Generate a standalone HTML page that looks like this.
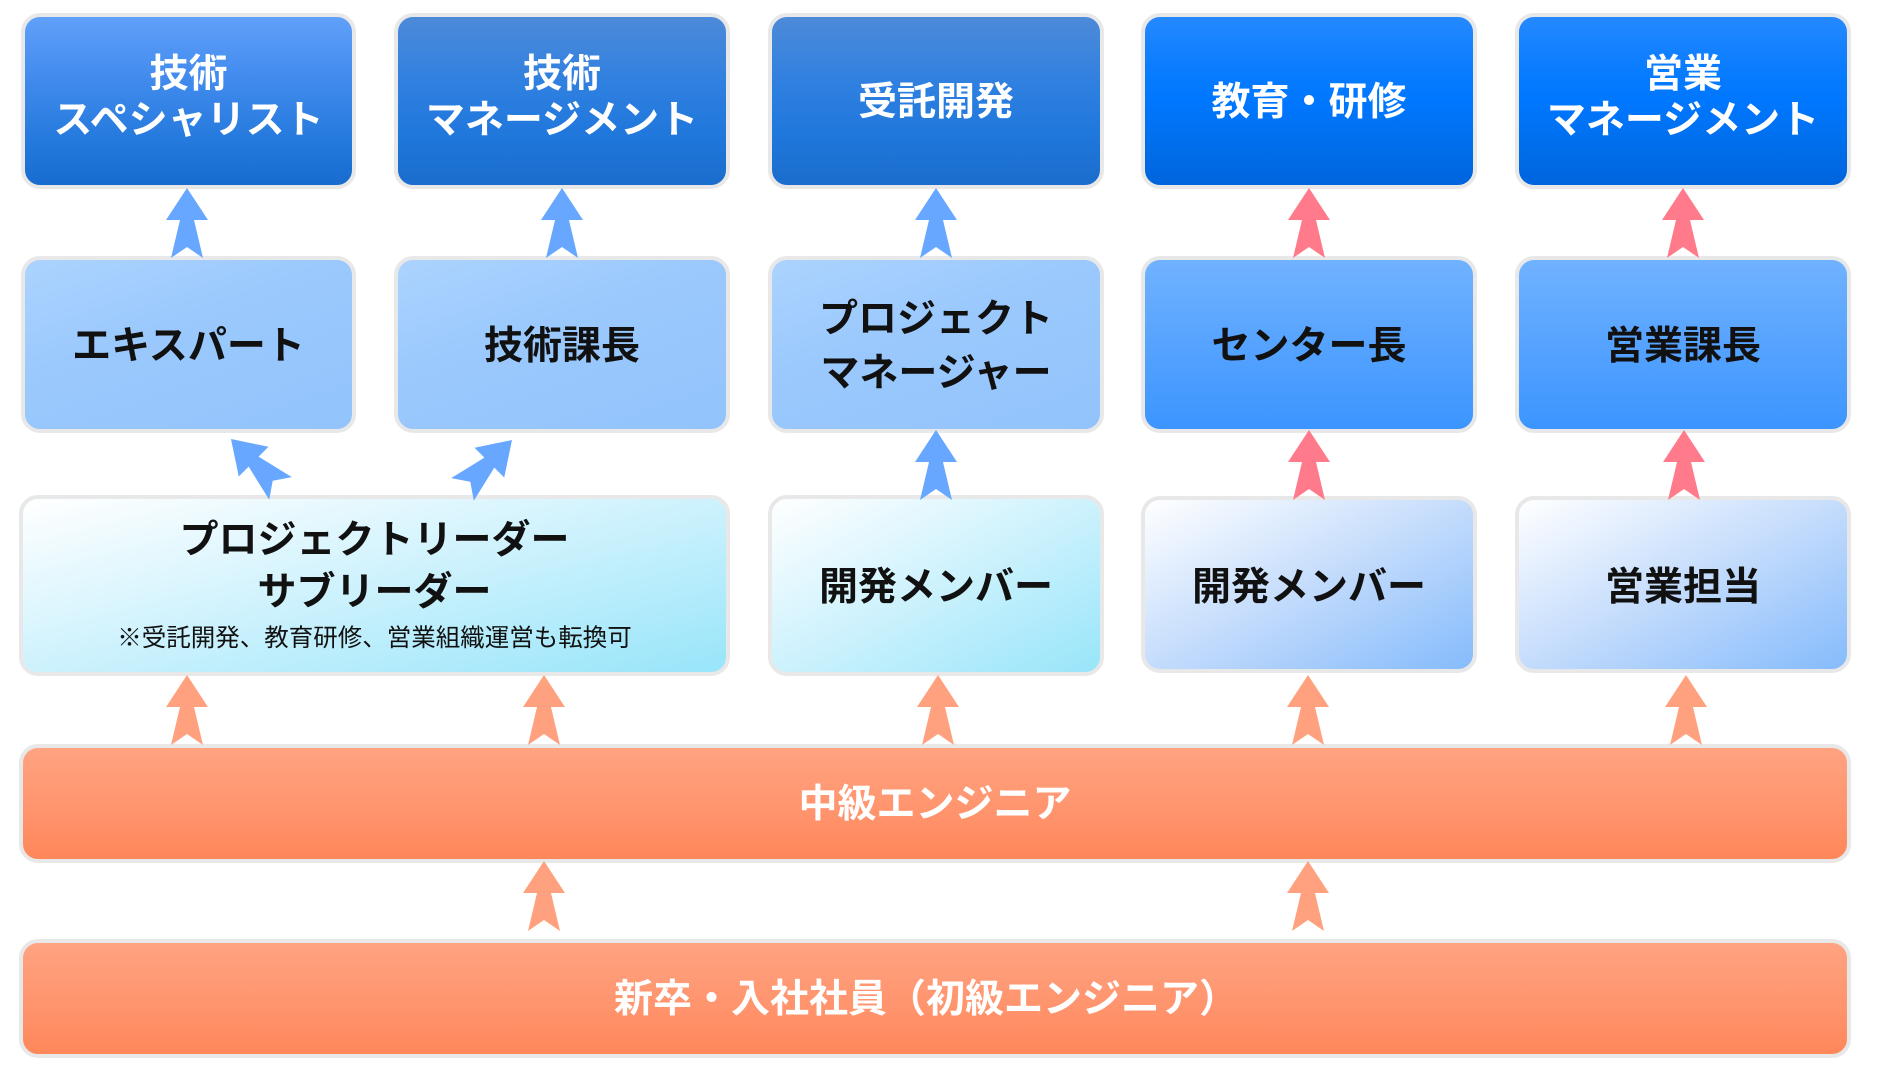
<!DOCTYPE html>
<html>
<head>
<meta charset="utf-8">
<style>
  html,body{margin:0;padding:0;background:#fff;}
  body{width:1881px;height:1084px;position:relative;overflow:hidden;
       font-family:"Liberation Sans","Noto Sans CJK JP",sans-serif;}
  .b{position:absolute;box-sizing:border-box;border:4px solid #e8e8e8;border-radius:19px;}
  .t{position:absolute;height:50px;line-height:50px;text-align:center;font-size:39px;font-weight:700;white-space:nowrap;margin-top:3px;
     font-family:"Liberation Sans","Noto Sans CJK JP",sans-serif;}
  .w{color:#fff;}
  .k{color:#111;}
  .r1a{background:linear-gradient(to bottom,#60a0fa 0%,#3f89ec 40%,#2479dc 75%,#186ccf 100%);}
  .r1b{background:linear-gradient(to bottom,#4d8ad9 0%,#2f80e0 40%,#2077dc 70%,#1a6dcc 100%);}
  .r1c{background:linear-gradient(to bottom,#2589ff 0%,#0a7dff 30%,#0077ff 50%,#006de9 80%,#0064dc 100%);}
  .r2a{background:linear-gradient(160deg,#acd3fe 0%,#9bc9fd 40%,#92c3fc 100%);}
  .r2c{background:linear-gradient(to bottom,#70b2ff 0%,#56a3ff 50%,#3c95ff 100%);}
  .r3a{background:linear-gradient(to bottom right,#ffffff 0%,#d2f3fd 45%,#98e5fa 100%);}
  .r3c{background:linear-gradient(to bottom right,#ffffff 0%,#c4dcfc 50%,#85bbfc 100%);}
  .r45{background:linear-gradient(to bottom,#ffa381 0%,#ff9670 50%,#ff875a 100%);}
  svg{position:absolute;left:0;top:0;}
</style>
</head>
<body>

<!-- Row 1 -->
<div class="b r1a" style="left:21px;top:13px;width:335px;height:176px;"></div>
<div class="b r1b" style="left:394px;top:13px;width:336px;height:176px;"></div>
<div class="b r1b" style="left:768px;top:13px;width:336px;height:176px;"></div>
<div class="b r1c" style="left:1141px;top:13px;width:336px;height:176px;"></div>
<div class="b r1c" style="left:1515px;top:13px;width:336px;height:176px;"></div>

<!-- Row 2 -->
<div class="b r2a" style="left:21px;top:256px;width:335px;height:177px;"></div>
<div class="b r2a" style="left:394px;top:256px;width:336px;height:177px;"></div>
<div class="b r2a" style="left:768px;top:256px;width:336px;height:177px;"></div>
<div class="b r2c" style="left:1141px;top:256px;width:336px;height:177px;"></div>
<div class="b r2c" style="left:1515px;top:256px;width:336px;height:177px;"></div>

<!-- Row 3 -->
<div class="b r3a" style="left:19px;top:495px;width:711px;height:181px;"></div>
<div class="b r3a" style="left:768px;top:495px;width:336px;height:181px;"></div>
<div class="b r3c" style="left:1141px;top:496px;width:336px;height:177px;"></div>
<div class="b r3c" style="left:1515px;top:496px;width:336px;height:177px;"></div>

<!-- Row 4 / 5 -->
<div class="b r45" style="left:19px;top:744px;width:1832px;height:119px;"></div>
<div class="b r45" style="left:19px;top:939px;width:1832px;height:119px;"></div>

<!-- Arrows -->
<svg width="1881" height="1084" viewBox="0 0 1881 1084">
  <defs>
    <polygon id="ar" points="0,0 21,32 7,32 16,70 0,59 -16,70 -7,32 -21,32"/>
  </defs>
  <!-- row2 -> row1 -->
  <use href="#ar" transform="translate(187,188)" fill="#67a7ff"/>
  <use href="#ar" transform="translate(562,188)" fill="#67a7ff"/>
  <use href="#ar" transform="translate(936,188)" fill="#67a7ff"/>
  <use href="#ar" transform="translate(1309,188)" fill="#ff7b8b"/>
  <use href="#ar" transform="translate(1683,188)" fill="#ff7b8b"/>
  <!-- row3 -> row2 -->
  <use href="#ar" transform="translate(231,439) rotate(-45)" fill="#67a7ff"/>
  <use href="#ar" transform="translate(512,440) rotate(45)" fill="#67a7ff"/>
  <use href="#ar" transform="translate(936,430)" fill="#67a7ff"/>
  <use href="#ar" transform="translate(1309,430)" fill="#ff7b8b"/>
  <use href="#ar" transform="translate(1684,430)" fill="#ff7b8b"/>
  <!-- row4 -> row3 -->
  <use href="#ar" transform="translate(187,675)" fill="#ffa17f"/>
  <use href="#ar" transform="translate(544,675)" fill="#ffa17f"/>
  <use href="#ar" transform="translate(938,675)" fill="#ffa17f"/>
  <use href="#ar" transform="translate(1308,675)" fill="#ffa17f"/>
  <use href="#ar" transform="translate(1686,675)" fill="#ffa17f"/>
  <!-- row5 -> row4 -->
  <use href="#ar" transform="translate(544,861)" fill="#ffa17f"/>
  <use href="#ar" transform="translate(1308,861)" fill="#ffa17f"/>
</svg>

<!-- Row 1 text -->
<div class="t w" style="left:21px;width:335px;top:47px;">技術</div>
<div class="t w" style="left:21px;width:335px;top:93px;">スペシャリスト</div>
<div class="t w" style="left:394px;width:336px;top:47px;">技術</div>
<div class="t w" style="left:394px;width:336px;top:93px;">マネージメント</div>
<div class="t w" style="left:768px;width:336px;top:75px;">受託開発</div>
<div class="t w" style="left:1141px;width:336px;top:75px;">教育・研修</div>
<div class="t w" style="left:1515px;width:336px;top:47px;">営業</div>
<div class="t w" style="left:1515px;width:336px;top:93px;">マネージメント</div>

<!-- Row 2 text -->
<div class="t k" style="left:21px;width:335px;top:319px;">エキスパート</div>
<div class="t k" style="left:394px;width:336px;top:319px;">技術課長</div>
<div class="t k" style="left:768px;width:336px;top:292px;">プロジェクト</div>
<div class="t k" style="left:768px;width:336px;top:346px;">マネージャー</div>
<div class="t k" style="left:1141px;width:336px;top:319px;">センター長</div>
<div class="t k" style="left:1515px;width:336px;top:319px;">営業課長</div>

<!-- Row 3 text -->
<div class="t k" style="left:19px;width:711px;top:513px;">プロジェクトリーダー</div>
<div class="t k" style="left:19px;width:711px;top:565px;">サブリーダー</div>
<div class="t k" style="left:19px;width:711px;top:621px;height:30px;line-height:30px;font-size:24.5px;font-weight:400;">※受託開発、教育研修、営業組織運営も転換可</div>
<div class="t k" style="left:768px;width:336px;top:560px;">開発メンバー</div>
<div class="t k" style="left:1141px;width:336px;top:560px;">開発メンバー</div>
<div class="t k" style="left:1515px;width:336px;top:560px;">営業担当</div>

<!-- Row 4 / 5 text -->
<div class="t w" style="left:19px;width:1832px;top:777px;">中級エンジニア</div>
<div class="t w" style="left:19px;width:1814px;top:972px;">新卒・入社社員（初級エンジニア）</div>

</body>
</html>
